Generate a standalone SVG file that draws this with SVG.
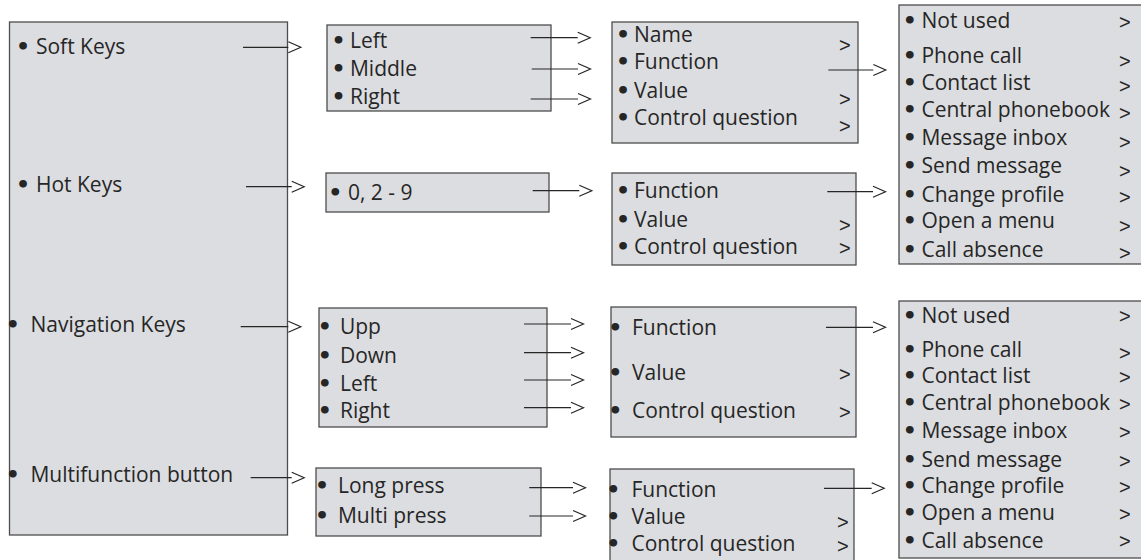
<svg xmlns="http://www.w3.org/2000/svg" width="1141" height="560" viewBox="0 0 1141 560">
<style>
.box{fill:#dcdde0;stroke:#4d4d4d;stroke-width:1.3}
text{font-family:"Open Sans","Noto Sans","Liberation Sans",sans-serif;font-size:21px;fill:#262626}
.b{font-family:"DejaVu Sans","Liberation Sans",sans-serif;font-size:22px;font-weight:bold}
.g{font-family:"Liberation Sans","Open Sans",sans-serif;font-size:20px}
.ln{stroke:#262626;stroke-width:1.2;fill:none}
</style>
<rect width="1141" height="560" fill="#ffffff"/>
<g id="keys">
<rect class="box" x="9.5" y="22" width="278" height="513"/>
<text y="54"><tspan class="b" x="16">•</tspan><tspan x="30.5"> Soft Keys</tspan></text>
<text y="192"><tspan class="b" x="16">•</tspan><tspan x="30.5"> Hot Keys</tspan></text>
<text y="332"><tspan class="b" x="5.8">•</tspan><tspan x="25"> Navigation Keys</tspan></text>
<text y="482"><tspan class="b" x="5.8">•</tspan><tspan x="25"> Multifunction button</tspan></text>
</g>
<g id="softkeys">
<rect class="box" x="327" y="25" width="224" height="86"/>
<text y="48"><tspan class="b" x="331.6">•</tspan><tspan x="344.5"> Left</tspan></text>
<text y="76"><tspan class="b" x="331.6">•</tspan><tspan x="344.5"> Middle</tspan></text>
<text y="104"><tspan class="b" x="331.6">•</tspan><tspan x="344.5"> Right</tspan></text>
</g>
<g id="hotkeys">
<rect class="box" x="326" y="173" width="223" height="39"/>
<text y="199.5"><tspan class="b" x="328.3">•</tspan><tspan x="342.5"> 0, 2 - 9</tspan></text>
</g>
<g id="navkeys">
<rect class="box" x="319" y="308" width="228" height="119"/>
<text y="334.3"><tspan class="b" x="317.8">•</tspan><tspan x="334.5"> Upp</tspan></text>
<text y="363.3"><tspan class="b" x="317.8">•</tspan><tspan x="334.5"> Down</tspan></text>
<text y="391"><tspan class="b" x="317.8">•</tspan><tspan x="334.5"> Left</tspan></text>
<text y="418.3"><tspan class="b" x="317.8">•</tspan><tspan x="334.5"> Right</tspan></text>
</g>
<g id="multibutton">
<rect class="box" x="316" y="468" width="225" height="68"/>
<text y="493.3"><tspan class="b" x="315">•</tspan><tspan x="332.5"> Long press</tspan></text>
<text y="522.7"><tspan class="b" x="315">•</tspan><tspan x="332.5"> Multi press</tspan></text>
</g>
<g id="softparams">
<rect class="box" x="612" y="22" width="246" height="121"/>
<text y="41.7"><tspan class="b" x="616">•</tspan><tspan x="628.5"> Name</tspan></text>
<text y="69.3"><tspan class="b" x="616">•</tspan><tspan x="628.5"> Function</tspan></text>
<text y="97.7"><tspan class="b" x="616">•</tspan><tspan x="628.5"> Value</tspan></text>
<text y="125"><tspan class="b" x="616">•</tspan><tspan x="628.5"> Control question</tspan></text>
<text class="g"><tspan x="839" y="52">&gt;</tspan><tspan x="839" y="106">&gt;</tspan><tspan x="839" y="133">&gt;</tspan></text>
</g>
<g id="hotparams">
<rect class="box" x="612" y="173" width="244" height="92"/>
<text y="198.3"><tspan class="b" x="616">•</tspan><tspan x="628.5"> Function</tspan></text>
<text y="226.7"><tspan class="b" x="616">•</tspan><tspan x="628.5"> Value</tspan></text>
<text y="254"><tspan class="b" x="616">•</tspan><tspan x="628.5"> Control question</tspan></text>
<text class="g"><tspan x="839" y="232">&gt;</tspan><tspan x="839" y="254.6">&gt;</tspan></text>
</g>
<g id="navparams">
<rect class="box" x="611" y="307" width="245" height="130"/>
<text y="335"><tspan class="b" x="608.3">•</tspan><tspan x="626.5"> Function</tspan></text>
<text y="380"><tspan class="b" x="608.3">•</tspan><tspan x="626.5"> Value</tspan></text>
<text y="418.3"><tspan class="b" x="608.3">•</tspan><tspan x="626.5"> Control question</tspan></text>
<text class="g"><tspan x="839" y="381">&gt;</tspan><tspan x="839" y="419">&gt;</tspan></text>
</g>
<g id="multiparams">
<rect class="box" x="610" y="469" width="244" height="100"/>
<text y="496.7"><tspan class="b" x="606.3">•</tspan><tspan x="626"> Function</tspan></text>
<text y="524.3"><tspan class="b" x="606.3">•</tspan><tspan x="626"> Value</tspan></text>
<text y="550.5"><tspan class="b" x="606.3">•</tspan><tspan x="626"> Control question</tspan></text>
<text class="g"><tspan x="837" y="529">&gt;</tspan><tspan x="837" y="552.5">&gt;</tspan></text>
</g>
<g id="functions1">
<rect class="box" x="899" y="5" width="260" height="259"/>
<text y="28.3"><tspan class="b" x="902.8">•</tspan><tspan x="916"> Not used</tspan></text>
<text y="63.3"><tspan class="b" x="902.8">•</tspan><tspan x="916"> Phone call</tspan></text>
<text y="90"><tspan class="b" x="902.8">•</tspan><tspan x="916"> Contact list</tspan></text>
<text y="116.7"><tspan class="b" x="902.8">•</tspan><tspan x="916"> Central phonebook</tspan></text>
<text y="145"><tspan class="b" x="902.8">•</tspan><tspan x="916"> Message inbox</tspan></text>
<text y="173.3"><tspan class="b" x="902.8">•</tspan><tspan x="916"> Send message</tspan></text>
<text y="201.7"><tspan class="b" x="902.8">•</tspan><tspan x="916"> Change profile</tspan></text>
<text y="228.3"><tspan class="b" x="902.8">•</tspan><tspan x="916"> Open a menu</tspan></text>
<text y="256.7"><tspan class="b" x="902.8">•</tspan><tspan x="916"> Call absence</tspan></text>
<text class="g"><tspan x="1119" y="28.5">&gt;</tspan><tspan x="1119" y="67.5">&gt;</tspan><tspan x="1119" y="93">&gt;</tspan><tspan x="1119" y="119.8">&gt;</tspan><tspan x="1119" y="149">&gt;</tspan><tspan x="1119" y="177.5">&gt;</tspan><tspan x="1119" y="204">&gt;</tspan><tspan x="1119" y="232.5">&gt;</tspan><tspan x="1119" y="259.8">&gt;</tspan></text>
</g>
<g id="functions2">
<rect class="box" x="899" y="301" width="260" height="257"/>
<text y="323.3"><tspan class="b" x="902.8">•</tspan><tspan x="916"> Not used</tspan></text>
<text y="357.3"><tspan class="b" x="902.8">•</tspan><tspan x="916"> Phone call</tspan></text>
<text y="383.3"><tspan class="b" x="902.8">•</tspan><tspan x="916"> Contact list</tspan></text>
<text y="410"><tspan class="b" x="902.8">•</tspan><tspan x="916"> Central phonebook</tspan></text>
<text y="438.3"><tspan class="b" x="902.8">•</tspan><tspan x="916"> Message inbox</tspan></text>
<text y="466.7"><tspan class="b" x="902.8">•</tspan><tspan x="916"> Send message</tspan></text>
<text y="493.3"><tspan class="b" x="902.8">•</tspan><tspan x="916"> Change profile</tspan></text>
<text y="520"><tspan class="b" x="902.8">•</tspan><tspan x="916"> Open a menu</tspan></text>
<text y="548.3"><tspan class="b" x="902.8">•</tspan><tspan x="916"> Call absence</tspan></text>
<text class="g"><tspan x="1119" y="322.5">&gt;</tspan><tspan x="1119" y="359.5">&gt;</tspan><tspan x="1119" y="384">&gt;</tspan><tspan x="1119" y="410.8">&gt;</tspan><tspan x="1119" y="439">&gt;</tspan><tspan x="1119" y="467.5">&gt;</tspan><tspan x="1119" y="494">&gt;</tspan><tspan x="1119" y="520.8">&gt;</tspan><tspan x="1119" y="547.5">&gt;</tspan></text>
</g>
<g id="connectors" class="ln">
<path class="ln" d="M243 47.3H288.3M288.3 41.8L300.8 47.3L288.3 52.8"/>
<path class="ln" d="M246 186.7H291.7M291.7 181.2L304.2 186.7L291.7 192.2"/>
<path class="ln" d="M240.7 326.7H288.3M288.3 321.2L300.8 326.7L288.3 332.2"/>
<path class="ln" d="M250.7 477.7H291.7M291.7 472.2L304.2 477.7L291.7 483.2"/>
<path class="ln" d="M530.7 37.7H577.7M577.7 32.2L590.2 37.7L577.7 43.2"/>
<path class="ln" d="M531.7 69H578M578 63.5L590.5 69L578 74.5"/>
<path class="ln" d="M530.7 99H578M578 93.5L590.5 99L578 104.5"/>
<path class="ln" d="M532.7 190.7H579.3M579.3 185.2L591.8 190.7L579.3 196.2"/>
<path class="ln" d="M524 324H571M571 318.5L583.5 324L571 329.5"/>
<path class="ln" d="M524 352.7H571M571 347.2L583.5 352.7L571 358.2"/>
<path class="ln" d="M524 380H571M571 374.5L583.5 380L571 385.5"/>
<path class="ln" d="M524 407.7H571M571 402.2L583.5 407.7L571 413.2"/>
<path class="ln" d="M529.3 487.7H573M573 482.2L585.5 487.7L573 493.2"/>
<path class="ln" d="M529.3 516H573M573 510.5L585.5 516L573 521.5"/>
<path class="ln" d="M828.3 70H873.3M873.3 64.5L885.8 70L873.3 75.5"/>
<path class="ln" d="M827.3 191.7H873M873 186.2L885.5 191.7L873 197.2"/>
<path class="ln" d="M826 327.3H873M873 321.8L885.5 327.3L873 332.8"/>
<path class="ln" d="M824 488.3H871.7M871.7 482.8L884.2 488.3L871.7 493.8"/>
</g>
</svg>
